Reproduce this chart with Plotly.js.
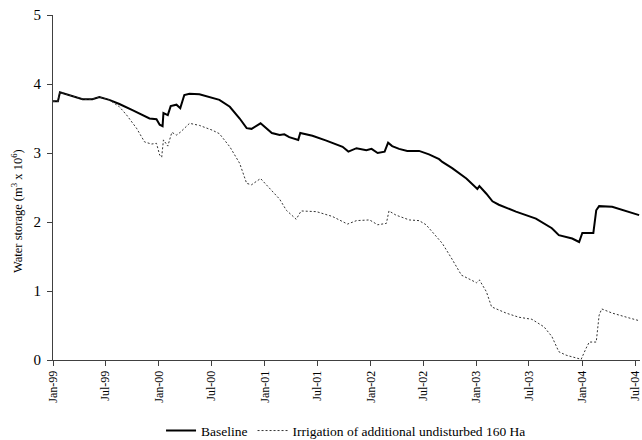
<!DOCTYPE html>
<html><head><meta charset="utf-8">
<script src="https://cdn.plot.ly/plotly-3.0.1.min.js"></script>
<style>html,body{margin:0;padding:0;background:#fff}#c{width:642px;height:440px}</style>
</head><body><div id="c"></div>
<script>
const baseDates = ['1999-01-01','1999-01-18','1999-01-25','1999-02-18','1999-04-13','1999-05-17','1999-06-10','1999-07-14','1999-08-18','1999-10-02','1999-11-06','1999-11-30','1999-12-24','2000-01-04','2000-01-14','2000-01-17','2000-02-01','2000-02-11','2000-03-02','2000-03-15','2000-03-29','2000-04-16','2000-05-20','2000-06-24','2000-07-28','2000-09-02','2000-10-06','2000-10-30','2000-11-16','2000-12-17','2001-01-25','2001-02-21','2001-03-09','2001-03-26','2001-04-26','2001-05-03','2001-06-14','2001-08-01','2001-09-26','2001-10-16','2001-11-13','2001-12-17','2002-01-04','2002-01-25','2002-02-18','2002-03-02','2002-03-16','2002-04-09','2002-05-07','2002-06-17','2002-07-21','2002-08-25','2002-09-05','2002-10-09','2002-11-27','2003-01-04','2003-01-11','2003-02-04','2003-02-25','2003-03-19','2003-05-17','2003-07-25','2003-09-18','2003-10-12','2003-11-27','2003-12-21','2004-01-01','2004-01-25','2004-02-08','2004-02-18','2004-02-28','2004-04-13','2004-06-10','2004-07-15'];
const baseline = [3.75,3.75,3.88,3.85,3.78,3.78,3.81,3.77,3.71,3.62,3.55,3.50,3.49,3.41,3.39,3.58,3.55,3.68,3.70,3.65,3.84,3.86,3.85,3.81,3.77,3.67,3.50,3.36,3.35,3.43,3.29,3.26,3.27,3.23,3.19,3.29,3.25,3.18,3.09,3.02,3.07,3.04,3.06,3.00,3.02,3.15,3.10,3.06,3.03,3.03,2.98,2.91,2.87,2.78,2.63,2.48,2.52,2.41,2.30,2.25,2.15,2.05,1.91,1.81,1.76,1.71,1.84,1.84,1.84,2.17,2.23,2.22,2.15,2.10];

const irrDates = ['1999-01-01','1999-01-18','1999-01-25','1999-02-18','1999-04-13','1999-05-17','1999-06-10','1999-07-14','1999-08-18','1999-09-12','1999-10-16','1999-11-13','1999-12-07','1999-12-24','2000-01-04','2000-01-11','2000-01-17','2000-02-01','2000-02-15','2000-03-02','2000-03-15','2000-04-16','2000-05-20','2000-07-04','2000-07-28','2000-09-02','2000-10-06','2000-10-30','2000-11-16','2000-12-17','2001-01-18','2001-02-21','2001-03-16','2001-04-19','2001-05-06','2001-06-28','2001-08-22','2001-10-13','2001-11-13','2001-12-28','2002-01-25','2002-02-24','2002-03-05','2002-03-29','2002-05-14','2002-06-17','2002-07-11','2002-08-01','2002-08-25','2002-09-05','2002-10-06','2002-11-10','2003-01-01','2003-01-11','2003-02-04','2003-02-22','2003-04-13','2003-05-27','2003-07-11','2003-08-22','2003-09-18','2003-10-12','2003-11-06','2003-12-10','2003-12-28','2004-01-14','2004-01-25','2004-02-18','2004-02-28','2004-03-08','2004-04-13','2004-06-10','2004-07-15'];
const irrigation = [3.75,3.75,3.88,3.85,3.78,3.78,3.81,3.77,3.67,3.55,3.36,3.16,3.13,3.14,2.97,2.94,3.19,3.10,3.30,3.26,3.30,3.43,3.40,3.33,3.28,3.09,2.85,2.56,2.54,2.63,2.49,2.33,2.17,2.04,2.16,2.15,2.08,1.97,2.02,2.03,1.96,1.98,2.16,2.10,2.03,2.02,1.96,1.86,1.75,1.69,1.48,1.23,1.12,1.16,0.99,0.77,0.68,0.62,0.59,0.48,0.34,0.12,0.07,0.03,0.01,0.17,0.26,0.26,0.65,0.74,0.68,0.61,0.57];

const seriesNames = ['Baseline','Irrigation of additional undisturbed 160 Ha'];
const yTitle = 'Water storage (m<sup>3</sup> x 10<sup>6</sup>)';

const fam = '"Liberation Serif","Times New Roman",serif';
const traces = [
  {x:baseDates, y:baseline, name:seriesNames[0], type:'scatter', mode:'lines',
   line:{color:'#000', width:2}},
  {x:irrDates, y:irrigation, name:seriesNames[1], type:'scatter', mode:'lines',
   line:{color:'#333', width:1, dash:'2px,2px'}}
];
const layout = {
  width:642, height:440,
  margin:{l:53, r:2, t:15, b:80, autoexpand:false},
  paper_bgcolor:'#fff', plot_bgcolor:'#fff',
  font:{family:fam, size:13, color:'#000'},
  showlegend:true,
  legend:{orientation:'h', xref:'container', yref:'container', x:0.539, xanchor:'center',
    y:0.021, yanchor:'middle', font:{family:fam, size:13.5, color:'#000'}},
  xaxis:{type:'date', range:['1999-01-01','2004-07-18'], tick0:'1999-01-01', dtick:'M6',
    tickformat:'%b-%y', tickangle:-90, ticks:'outside', ticklen:5, tickcolor:'#404040',
    showline:true, linecolor:'#404040', linewidth:1, showgrid:false, zeroline:false,
    tickfont:{family:fam, size:12, color:'#000'}},
  yaxis:{range:[0,5], dtick:1, ticks:'outside', ticklen:5, tickcolor:'#404040',
    ticklabelstandoff:3,
    showline:true, linecolor:'#404040', linewidth:1, showgrid:false, zeroline:false,
    tickfont:{family:fam, size:15, color:'#000'}},
  annotations:[{text:yTitle, xref:'paper', yref:'paper', x:-36/587, xanchor:'center',
    y:149/345, yanchor:'middle', textangle:-90, showarrow:false,
    font:{family:fam, size:12.5, color:'#000'}}]
};
Plotly.newPlot('c', traces, layout, {staticPlot:true, displayModeBar:false});
</script></body></html>
